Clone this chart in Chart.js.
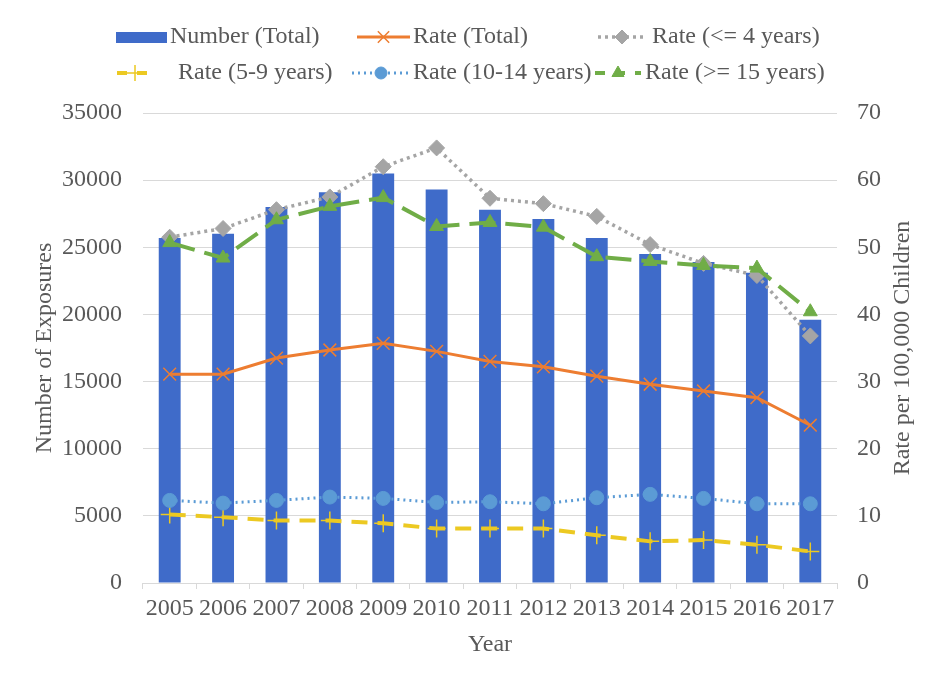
<!DOCTYPE html>
<html>
<head>
<meta charset="utf-8">
<script src="https://cdn.jsdelivr.net/npm/chart.js@4/dist/chart.umd.min.js"></script>
<style>
  body { margin: 0; background: #fff; }
  #wrap { width: 927px; height: 679px; }
</style>
</head>
<body>
<div id="wrap"><canvas id="exposures" width="927" height="679"></canvas></div>
<script>
const years = ['2005', '2006', '2007', '2008', '2009', '2010', '2011', '2012', '2013', '2014', '2015', '2016', '2017'];
const numberTotal = [25700, 26000, 28000, 29100, 30500, 29300, 27800, 27100, 25700, 24500, 23900, 23100, 19600];
const rateTotal = [31.1, 31.1, 33.5, 34.7, 35.7, 34.5, 33.0, 32.2, 30.8, 29.6, 28.6, 27.6, 23.5];
const rateUnder4 = [51.5, 52.8, 55.6, 57.5, 62.0, 64.8, 57.3, 56.5, 54.6, 50.4, 47.6, 45.8, 36.8];
const rate5to9 = [10.2, 9.8, 9.3, 9.3, 8.9, 8.1, 8.1, 8.1, 7.1, 6.2, 6.4, 5.7, 4.7];
const rate10to14 = [12.3, 11.9, 12.3, 12.8, 12.6, 12.0, 12.1, 11.8, 12.7, 13.2, 12.6, 11.8, 11.8];
const rate15plus = [50.7, 48.4, 54.1, 56.1, 57.4, 53.1, 53.7, 53.0, 48.6, 47.9, 47.3, 46.9, 40.4];

const textColor = '#595959';
const gridColor = '#d9d9d9';
const serif = "'Liberation Serif', 'Times New Roman', serif";

Chart.defaults.font.family = serif;
Chart.defaults.font.size = 24;
Chart.defaults.color = textColor;

function rateLine(label, data, color, dash, width, marker, radius, order) {
    return {
        type: 'line',
        label: label,
        data: data,
        yAxisID: 'y1',
        borderColor: color,
        backgroundColor: color,
        borderWidth: width,
        borderDash: dash,
        pointStyle: marker,
        pointRadius: radius,
        pointBorderWidth: (marker == 'cross' || marker == 'crossRot') ? 1.5 : 1,
        pointBorderColor: color,
        pointBackgroundColor: color,
        fill: false,
        tension: 0,
        order: order
    };
}

// legend drawn by hand so it sits in the same 3 column grid as the original
// [symbol x, symbol width, text x, row y] for each dataset
const legendSlots = [
    [116, 51, 170, 37],
    [357, 53, 413, 37],
    [598, 48, 652, 37],
    [117, 36, 178, 73],
    [352, 58, 413, 73],
    [595, 46, 645, 73]
];

const legendPlugin = {
    id: 'gridLegend',
    afterDraw(chart) {
        const ctx = chart.ctx;
        ctx.save();
        ctx.font = '24px ' + serif;
        ctx.textBaseline = 'middle';
        chart.data.datasets.forEach((ds, i) => {
            const [x, w, tx, y] = legendSlots[i];
            if (ds.type == 'bar') {
                ctx.fillStyle = ds.backgroundColor;
                ctx.fillRect(x, y - 5, w, 11);
            } else {
                ctx.strokeStyle = ds.borderColor;
                ctx.fillStyle = ds.borderColor;
                ctx.lineWidth = ds.borderWidth;
                ctx.setLineDash(ds.borderDash.length ? ds.borderDash.map(d => Math.min(d, 10)) : []);
                ctx.beginPath();
                ctx.moveTo(x, y);
                ctx.lineTo(x + w, y);
                ctx.stroke();
                ctx.setLineDash([]);
                ctx.lineWidth = ds.pointBorderWidth;
                Chart.helpers.drawPoint(ctx, {
                    pointStyle: ds.pointStyle,
                    radius: ds.pointRadius - 1,
                    borderWidth: ds.pointBorderWidth
                }, x + w / 2, y);
            }
            ctx.fillStyle = textColor;
            ctx.textAlign = 'left';
            ctx.fillText(ds.label, tx, y);
        });

        // right axis title reads bottom to top, like the left one
        ctx.translate(903, 348);
        ctx.rotate(-Math.PI / 2);
        ctx.textAlign = 'center';
        ctx.fillText('Rate per 100,000 Children', 0, 0);
        ctx.restore();
    }
};

const ctx = document.getElementById('exposures').getContext('2d');
const exposuresChart = new Chart(ctx, {
    type: 'bar',
    data: {
        labels: years,
        datasets: [
            {
                type: 'bar',
                label: 'Number (Total)',
                data: numberTotal,
                yAxisID: 'y',
                backgroundColor: '#3f6bc9',
                categoryPercentage: 1,
                barPercentage: 0.41,
                order: 10
            },
            rateLine('Rate (Total)', rateTotal, '#ed7d31', [], 3, 'crossRot', 9, 6),
            rateLine('Rate (<= 4 years)', rateUnder4, '#a5a5a5', [3, 4], 3.5, 'rectRot', 8, 5),
            rateLine('Rate (5-9 years)', rate5to9, '#ecc922', [16, 10], 4, 'cross', 9, 4),
            rateLine('Rate (10-14 years)', rate10to14, '#5b9bd5', [2, 4], 3, 'circle', 7, 3),
            rateLine('Rate (>= 15 years)', rate15plus, '#70ad47', [26, 10], 4, 'triangle', 8, 2)
        ]
    },
    options: {
        responsive: false,
        animation: false,
        layout: { padding: { top: 113, left: 0, right: 0, bottom: 0 } },
        plugins: {
            legend: { display: false },
            tooltip: { enabled: false }
        },
        scales: {
            x: {
                offset: true,
                grid: { display: true, drawOnChartArea: false, drawTicks: true, tickLength: 6, color: gridColor, offset: true },
                border: { display: false },
                ticks: { padding: 5, maxRotation: 0, autoSkip: false },
                title: { display: true, text: 'Year', padding: { top: 4, bottom: 20 } },
                afterFit: s => { s.height = 96; }
            },
            y: {
                position: 'left',
                min: 0,
                max: 35000,
                grid: { color: gridColor, drawTicks: false },
                border: { display: false },
                ticks: { stepSize: 5000, padding: 21, callback: v => String(v) },
                title: { display: true, text: 'Number of Exposures', padding: { top: 30, bottom: 0 } },
                afterFit: s => { s.width = 143; }
            },
            y1: {
                position: 'right',
                min: 0,
                max: 70,
                grid: { drawOnChartArea: false, drawTicks: false },
                border: { display: false },
                ticks: { stepSize: 10, padding: 20, callback: v => String(v) },
                afterFit: s => { s.width = 90; }
            }
        }
    },
    plugins: [legendPlugin]
});
</script>
</body>
</html>
